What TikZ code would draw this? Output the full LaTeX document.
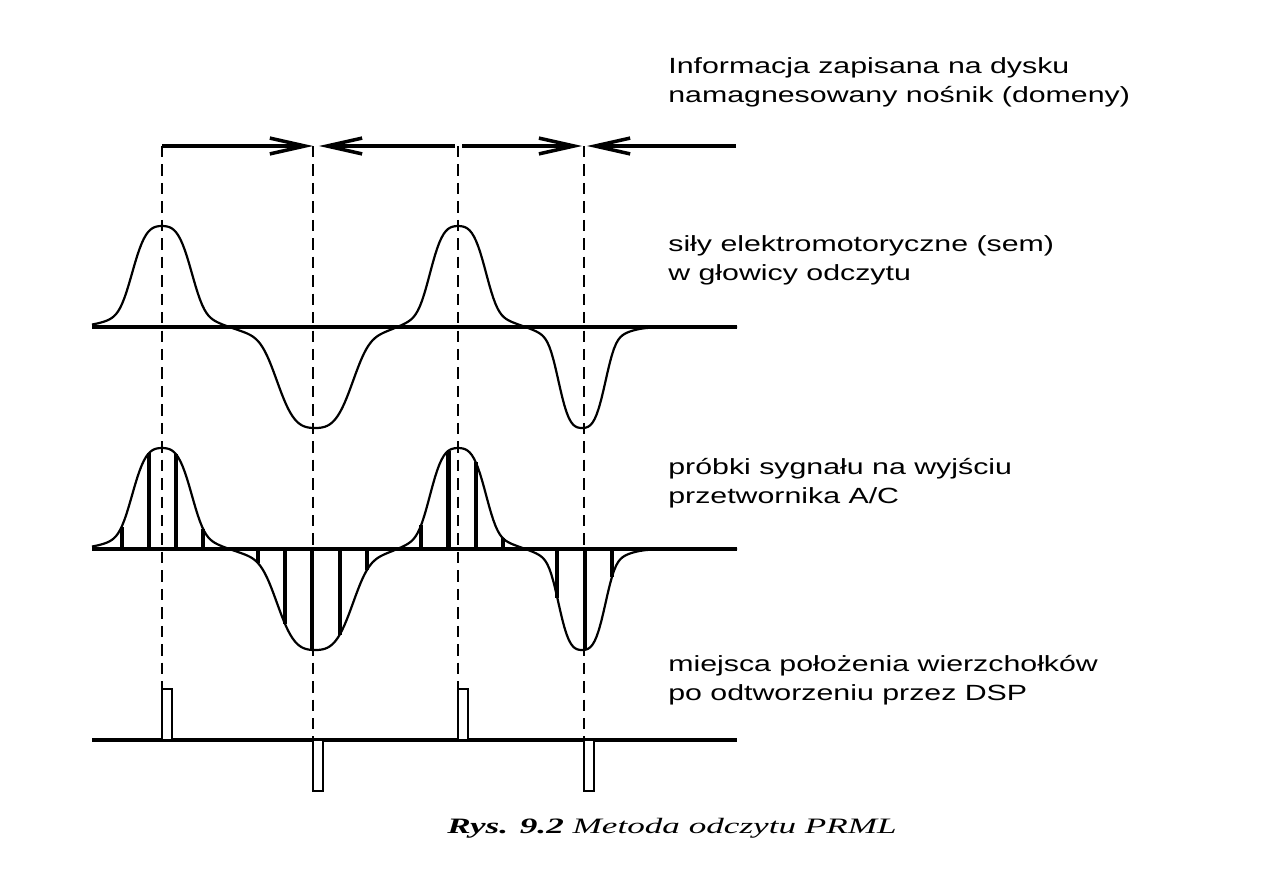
\documentclass[tikz,border=0pt]{standalone}
\usepackage{fontspec}
\setmainfont{Liberation Serif}
\newfontfamily\lblfont[FakeStretch=1.38]{Liberation Sans}
\newfontfamily\capfont[FakeStretch=1.6]{Liberation Serif}
\usetikzlibrary{arrows.meta, calc}
\tikzset{
  axis/.style={draw=black, line width=1.8pt},
  wave/.style={draw=black, line width=1.25pt, line join=round},
  guide/.style={draw=black, line width=1.4pt, dash pattern=on 6.5pt off 4pt},
  samp/.style={draw=black, line width=2.3pt},
  peakbar/.style={draw=black, line width=1.3pt, fill=white},
  flow/.style={draw=black, line width=2pt,
               -{Straight Barb[length=20pt, width=9pt]}},
  %
  lbl/.style={font=\lblfont\fontsize{12.5pt}{16.4pt}\selectfont,
              anchor=west, align=left, inner sep=0pt},
  captext/.style={font=\capfont\itshape\fontsize{12.5pt}{14pt}\selectfont,
              inner sep=0pt},
}

\begin{document}
\begin{tikzpicture}[x=0.2mm, y=-0.2mm,
  declare function={
    bump(\d,\w)=0.72*exp(-((min(abs(\d)/\w,3)+0.0001)^3.5))
               +0.28*exp(-((min(abs(\d)/(1.36*\w),4))^2));
    wave(\x)=101*bump(\x-162,33)-101*bump(\x-315,42)
            +101*bump(\x-458,31)-101*bump(\x-582,26);
  }]
  \useasboundingbox (0,0) rectangle (1263,893);

  % --- reference points -------------------------------------------------
  \coordinate (g1) at (162,146);
  \coordinate (g2) at (313,146);
  \coordinate (g3) at (458,146);
  \coordinate (g4) at (584,146);
  \coordinate (gR) at (736,146);
  \coordinate (r1w) at (92,327);  \coordinate (r1e) at (737,327);
  \coordinate (r2w) at (92,549);  \coordinate (r2e) at (737,549);
  \coordinate (r3w) at (92,740);  \coordinate (r3e) at (737,740);

  % --- domains on the disk ----------------------------------------------
  \draw[flow] (g1) -- (g2);
  \draw[flow] ([xshift=-1.7pt]g3) -- ([xshift=3.4pt]g2);
  \draw[flow] ([xshift=2.3pt]g3) -- ([xshift=-1.1pt]g4);
  \draw[flow] (gR) -- ([xshift=1.7pt]g4);

  \foreach \g in {g1,g2,g3,g4}
    \draw[guide] (\g) -- (\g |- r3w);

  % --- emf in the head --------------------------------------------------
  \draw[axis] (r1w) -- (r1e);
  \draw[wave] plot[domain=92:737, samples=300] (\x, {327-wave(\x)});

  % --- A/C samples ------------------------------------------------------
  \draw[axis] (r2w) -- (r2e);
  \draw[wave] plot[domain=92:737, samples=300] (\x, {549-wave(\x)});
  \foreach \k in {0,...,18} {
    \pgfmathsetmacro{\xs}{121.6+27.24*\k}
    \draw[samp] (\xs,549) -- (\xs,{549-wave(\xs)});
  }

  % --- peaks after DSP --------------------------------------------------
  \draw[axis] (r3w) -- (r3e);
  \draw[peakbar] (g1 |- r3w) rectangle ++(10,-51);
  \draw[peakbar] (g2 |- r3w) rectangle ++(10,51);
  \draw[peakbar] (g3 |- r3w) rectangle ++(10,-51);
  \draw[peakbar] (g4 |- r3w) rectangle ++(10,51);

  % --- labels -----------------------------------------------------------
  \node[lbl] (lmedium) at (668,82.5)
    {Informacja zapisana na dysku\\namagnesowany nośnik (domeny)};
  \node[lbl] (lsem) at (668,260.5)
    {siły elektromotoryczne (sem)\\w głowicy odczytu};
  \node[lbl] (lsamp) at (668,483)
    {próbki sygnału na wyjściu\\przetwornika A/C};
  \node[lbl] (ldsp) at (668,680)
    {miejsca położenia wierzchołków\\po odtworzeniu przez DSP};

  \node[captext] (caption) at (672,828) {\textbf{Rys. 9.2} Metoda odczytu PRML};

\end{tikzpicture}
\end{document}
